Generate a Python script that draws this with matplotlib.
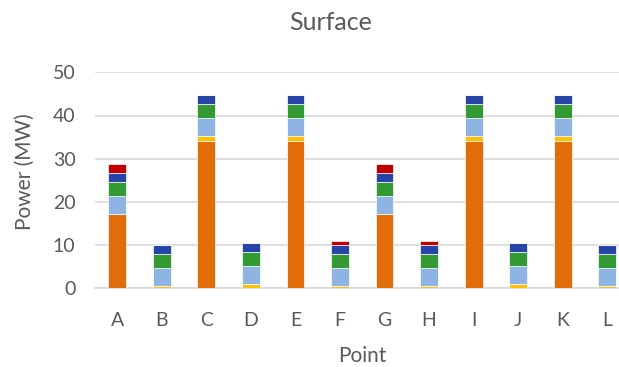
import matplotlib.pyplot as plt
import numpy as np

points = ['A', 'B', 'C', 'D', 'E', 'F', 'G', 'H', 'I', 'J', 'K', 'L']

# stacked power contributions per point (MW), bottom to top
orange = [17.1, 0.0, 34.2, 0.0, 34.2, 0.0, 17.1, 0.0, 34.2, 0.0, 34.2, 0.0]
yellow = [0.2, 0.5, 1.1, 1.1, 1.1, 0.5, 0.2, 0.5, 1.1, 1.1, 1.1, 0.5]
light_blue = [4.1, 4.1, 4.1, 4.1, 4.1, 4.1, 4.1, 4.1, 4.1, 4.1, 4.1, 4.1]
green = [3.1, 3.3, 3.3, 3.2, 3.3, 3.3, 3.1, 3.3, 3.3, 3.2, 3.3, 3.3]
blue = [2.2, 2.2, 2.1, 2.2, 2.1, 2.2, 2.2, 2.2, 2.1, 2.2, 2.1, 2.2]
red = [2.0, 0.0, 0.0, 0.0, 0.0, 0.9, 2.0, 0.9, 0.0, 0.0, 0.0, 0.0]

series = [orange, yellow, light_blue, green, blue, red]
colors = ['#E36C0A', '#FFC000', '#8EB4E3', '#339933', '#2744A6', '#C00000']

plt.rcParams['font.family'] = ['Lato', 'DejaVu Sans']
gray = '#595959'

fig = plt.figure(figsize=(6.19, 3.67), dpi=100)
ax = fig.add_axes([95 / 619, 1 - 288.3 / 367, 534.5 / 619, 216 / 367])

x = np.arange(len(points))
bottom = np.zeros(len(points))
for vals, c in zip(series, colors):
    ax.bar(x, vals, width=0.4, bottom=bottom, color=c,
           edgecolor='white', linewidth=0.5, zorder=3)
    bottom += np.array(vals)

ax.set_xlim(-0.5, len(points) - 0.5)
ax.set_ylim(0, 50)
ax.set_yticks(range(0, 51, 10))
ax.set_xticks(x)
ax.set_xticklabels(points)
ax.yaxis.grid(True, color='#D9D9D9', linewidth=1.2, zorder=0)
ax.tick_params(axis='both', length=0, labelsize=14, colors=gray)
ax.tick_params(axis='x', pad=17)
ax.tick_params(axis='y', pad=14)
for s in ['top', 'right', 'left']:
    ax.spines[s].set_visible(False)
ax.spines['bottom'].set_color('#D9D9D9')
ax.spines['bottom'].set_linewidth(1.2)

fig.text(331 / 619, 1 - 22 / 367, 'Surface', ha='center', va='center',
         fontsize=18, color=gray)
fig.text(362 / 619, 1 - 356 / 367, 'Point', ha='center', va='center',
         fontsize=15, color=gray)
fig.text(25 / 619, 1 - 172 / 367, 'Power (MW)', ha='center', va='center',
         rotation=90, fontsize=15, color=gray)

fig.savefig('out.png', dpi=100)
